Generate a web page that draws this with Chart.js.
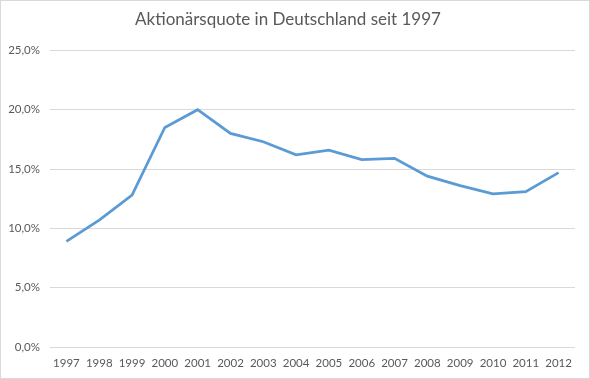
<!DOCTYPE html>
<html>
<head>
<meta charset="utf-8">
<script src="https://cdn.jsdelivr.net/npm/chart.js@4/dist/chart.umd.min.js"></script>
<style>
  body { margin: 0; background: #fff; }
  #wrap { width: 590px; height: 379px; box-sizing: border-box; border: 1px solid #d9d9d9; }
</style>
</head>
<body>
<div id="wrap"><canvas id="chart" width="588" height="377"></canvas></div>
<script>
// Aktionärsquote (percent of population)
const years = ['1997', '1998', '1999', '2000', '2001', '2002', '2003', '2004',
  '2005', '2006', '2007', '2008', '2009', '2010', '2011', '2012'];
const quote = [8.9, 10.7, 12.8, 18.5, 20.0, 18.0, 17.3, 16.2,
  16.6, 15.8, 15.9, 14.4, 13.6, 12.9, 13.1, 14.7];
const yTicks = [0, 5, 10, 15, 20, 25];

const textColor = '#595959';
const fontFamily = 'Lato, "Open Sans", sans-serif';

const ctx = document.getElementById('chart').getContext('2d');
new Chart(ctx, {
  type: 'line',
  data: {
    labels: years,
    datasets: [{
      label: 'Aktionärsquote',
      data: quote,
      borderColor: '#5b9bd5',
      borderWidth: 2.75,
      pointRadius: 0,
      tension: 0,
      fill: false
    }]
  },
  options: {
    responsive: false,
    animation: false,
    layout: { padding: { top: 5, right: 14, bottom: 0, left: 0 } },
    plugins: {
      legend: { display: false },
      tooltip: { enabled: false },
      title: {
        display: true,
        text: 'Aktionärsquote in Deutschland seit 1997',
        color: textColor,
        font: { family: fontFamily, size: 17, weight: 'normal' },
        padding: { top: 3, bottom: 21 }
      }
    },
    scales: {
      x: {
        offset: true,
        grid: { display: false, drawTicks: false },
        border: { display: false },
        ticks: {
          color: textColor,
          font: { family: fontFamily, size: 11.5 },
          padding: 9,
          maxRotation: 0,
          autoSkip: false
        },
        afterFit: (axis) => { axis.height = 31; }
      },
      y: {
        min: yTicks[0],
        max: yTicks[yTicks.length - 1],
        afterBuildTicks: (axis) => { axis.ticks = yTicks.map(v => ({ value: v })); },
        grid: { color: '#d9d9d9', lineWidth: 1, drawTicks: false },
        border: { display: false },
        ticks: {
          color: textColor,
          font: { family: fontFamily, size: 11.5 },
          padding: 10,
          callback: (v) => v.toFixed(1).replace('.', ',') + '%'
        },
        afterFit: (axis) => { axis.width = 49; }
      }
    }
  }
});
</script>
</body>
</html>
